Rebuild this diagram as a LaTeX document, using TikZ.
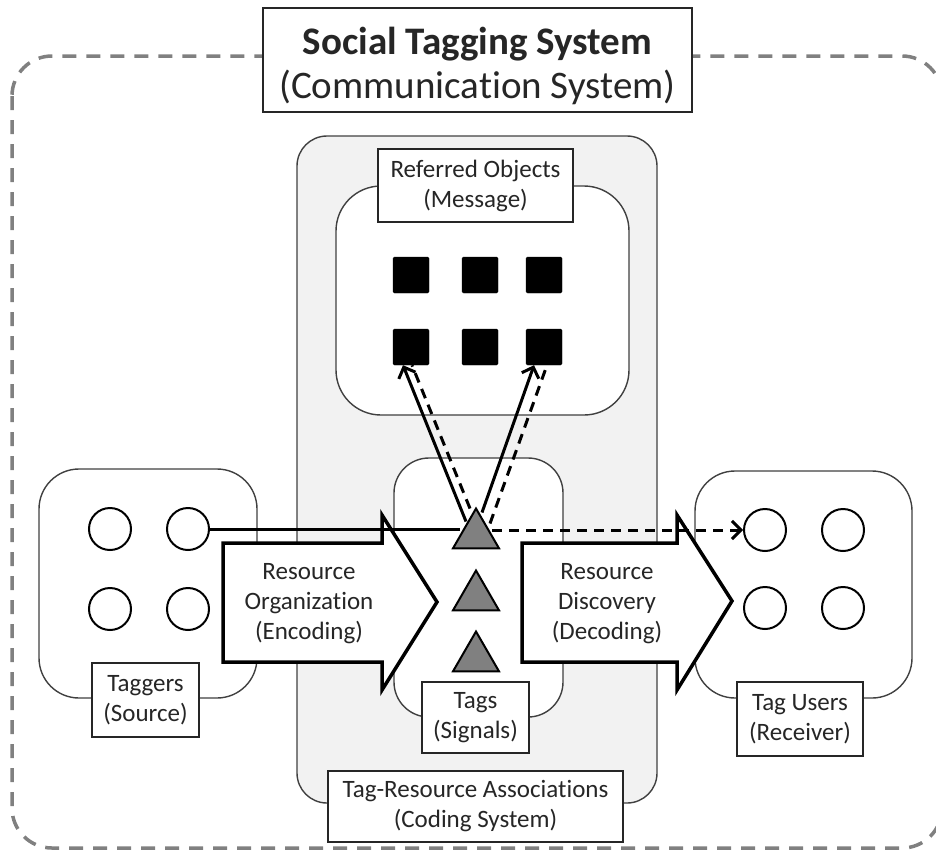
\documentclass[tikz,border=0pt]{standalone}
\usepackage{fontspec}
\setmainfont{Carlito}[Ligatures={NoCommon,NoContextual,NoRequired}, RawFeature=-clig, RawFeature=-dlig, RawFeature=-ccmp]
\usepackage{tikz}
\usetikzlibrary{shapes.geometric, arrows.meta, positioning, calc}

\begin{document}
\begin{tikzpicture}[
    x=1pt, y=-1pt,
    every node/.style={font=\fontsize{25}{30}\selectfont, text=black!85},
    group/.style={draw=black!75, line width=1.4pt, rounded corners=40pt, fill=white},
    labelbox/.style={draw=black!85, line width=1.4pt, fill=white, align=center, inner sep=0pt},
    obj/.style={fill=black, draw=black, rounded corners=1.5pt, minimum size=36pt, inner sep=0pt},
    tag/.style={regular polygon, regular polygon sides=3, minimum size=53pt, inner sep=0pt, fill=black!50, draw=black, line width=2pt},
    agent/.style={circle, draw=black, line width=2pt, fill=white, minimum size=42pt, inner sep=0pt},
    link/.style={line width=3pt, -{Straight Barb[length=9pt, width=18pt]}},
    flow/.style={line width=3pt, dash pattern=on 10pt off 7pt},
    bigarrow/.style={draw=black, line width=3.5pt, fill=white, line join=miter},
    arrowtext/.style={align=center}
]
    \useasboundingbox (0,0) rectangle (936,857);

    % Outer system
    \draw[draw=black!50, line width=3.5pt, dash pattern=on 14pt off 10pt, rounded corners=40pt] (12,56) rectangle (942,848);
    \node[labelbox, font=\fontsize{39}{44}\selectfont, minimum width=429pt, minimum height=104pt] (title) at (477.5,60)
        {\rule{0pt}{40pt}{\bfseries Social Tagging System}\\(Communication System)};

    % Coding system
    \draw[group, fill=black!5, rounded corners=30pt] (297,136) rectangle (657,803);

    % Message
    \draw[group, rounded corners=45pt] (336,186) rectangle (629,415);
    \node[labelbox, minimum width=195pt, minimum height=73pt] (msglabel) at (475.5,185.5) {Referred Objects\\(Message)};
    \foreach \x/\i/\j in {411/1/4, 480/2/5, 544/3/6} {
        \node[obj] (o\i) at (\x,275) {};
        \node[obj] (o\j) at (\x,347) {};
    }

    % Signals
    \draw[group, rounded corners=35pt] (394,458) rectangle (563,717);
    \foreach \y [count=\i] in {535,597,658}
        \node[tag] (t\i) at (476,\y) {};
    \node[labelbox, minimum width=107pt, minimum height=71pt] (taglabel) at (475.5,717.5) {Tags\\(Signals)};

    % Source
    \draw[group] (39,469) rectangle (257,698);
    \node[agent] (s1) at (110,529) {};
    \node[agent] (s2) at (188,529) {};
    \node[agent] (s3) at (110,609) {};
    \node[agent] (s4) at (188,609) {};
    \node[labelbox, minimum width=107pt, minimum height=74pt] (srclabel) at (145.5,700) {Taggers\\(Source)};

    % Receiver
    \draw[group] (695,471) rectangle (912,698);
    \node[agent] (r1) at (765,530) {};
    \node[agent] (r2) at (843,530) {};
    \node[agent] (r3) at (765,608) {};
    \node[agent] (r4) at (843,608) {};
    \node[labelbox, minimum width=126pt, minimum height=74pt] (rcvlabel) at (800,719) {Tag Users\\(Receiver)};

    \node[labelbox, minimum width=295pt, minimum height=71pt] (codelabel) at (475.5,806.5) {Tag-Resource Associations\\(Coding System)};

    % Encoding / decoding
    \draw[bigarrow] (223,543) -- (382,543) -- (382,515) -- (437,602) -- (382,690) -- (382,662) -- (223,662) -- cycle;
    \node[arrowtext] (encode) at (309,604) {Resource\\Organization\\(Encoding)};
    \draw[bigarrow] (522,543) -- (677,543) -- (677,515) -- (732,601) -- (677,690) -- (677,662) -- (522,662) -- cycle;
    \node[arrowtext] (decode) at (607,604) {Resource\\Discovery\\(Decoding)};

    % Connectors
    \draw[line width=3pt] (s2.east) -- (t1.west |- s2.east);
    \draw[link, flow] (t1.east |- r1.west) -- (r1.west);
    \draw[link] ([xshift=-10pt, yshift=-15pt]t1.north) -- ([xshift=-8pt]o4.south);
    \draw[link] ([xshift=6pt, yshift=-6pt]t1.north) -- ([xshift=-10pt]o6.south);
    \draw[flow] ([xshift=-6pt, yshift=-2pt]t1.north) -- ([xshift=1pt]o4.south);
    \draw[flow] ([xshift=14pt, yshift=-17pt]t1.north) -- ([xshift=3pt]o6.south);
\end{tikzpicture}
\end{document}
